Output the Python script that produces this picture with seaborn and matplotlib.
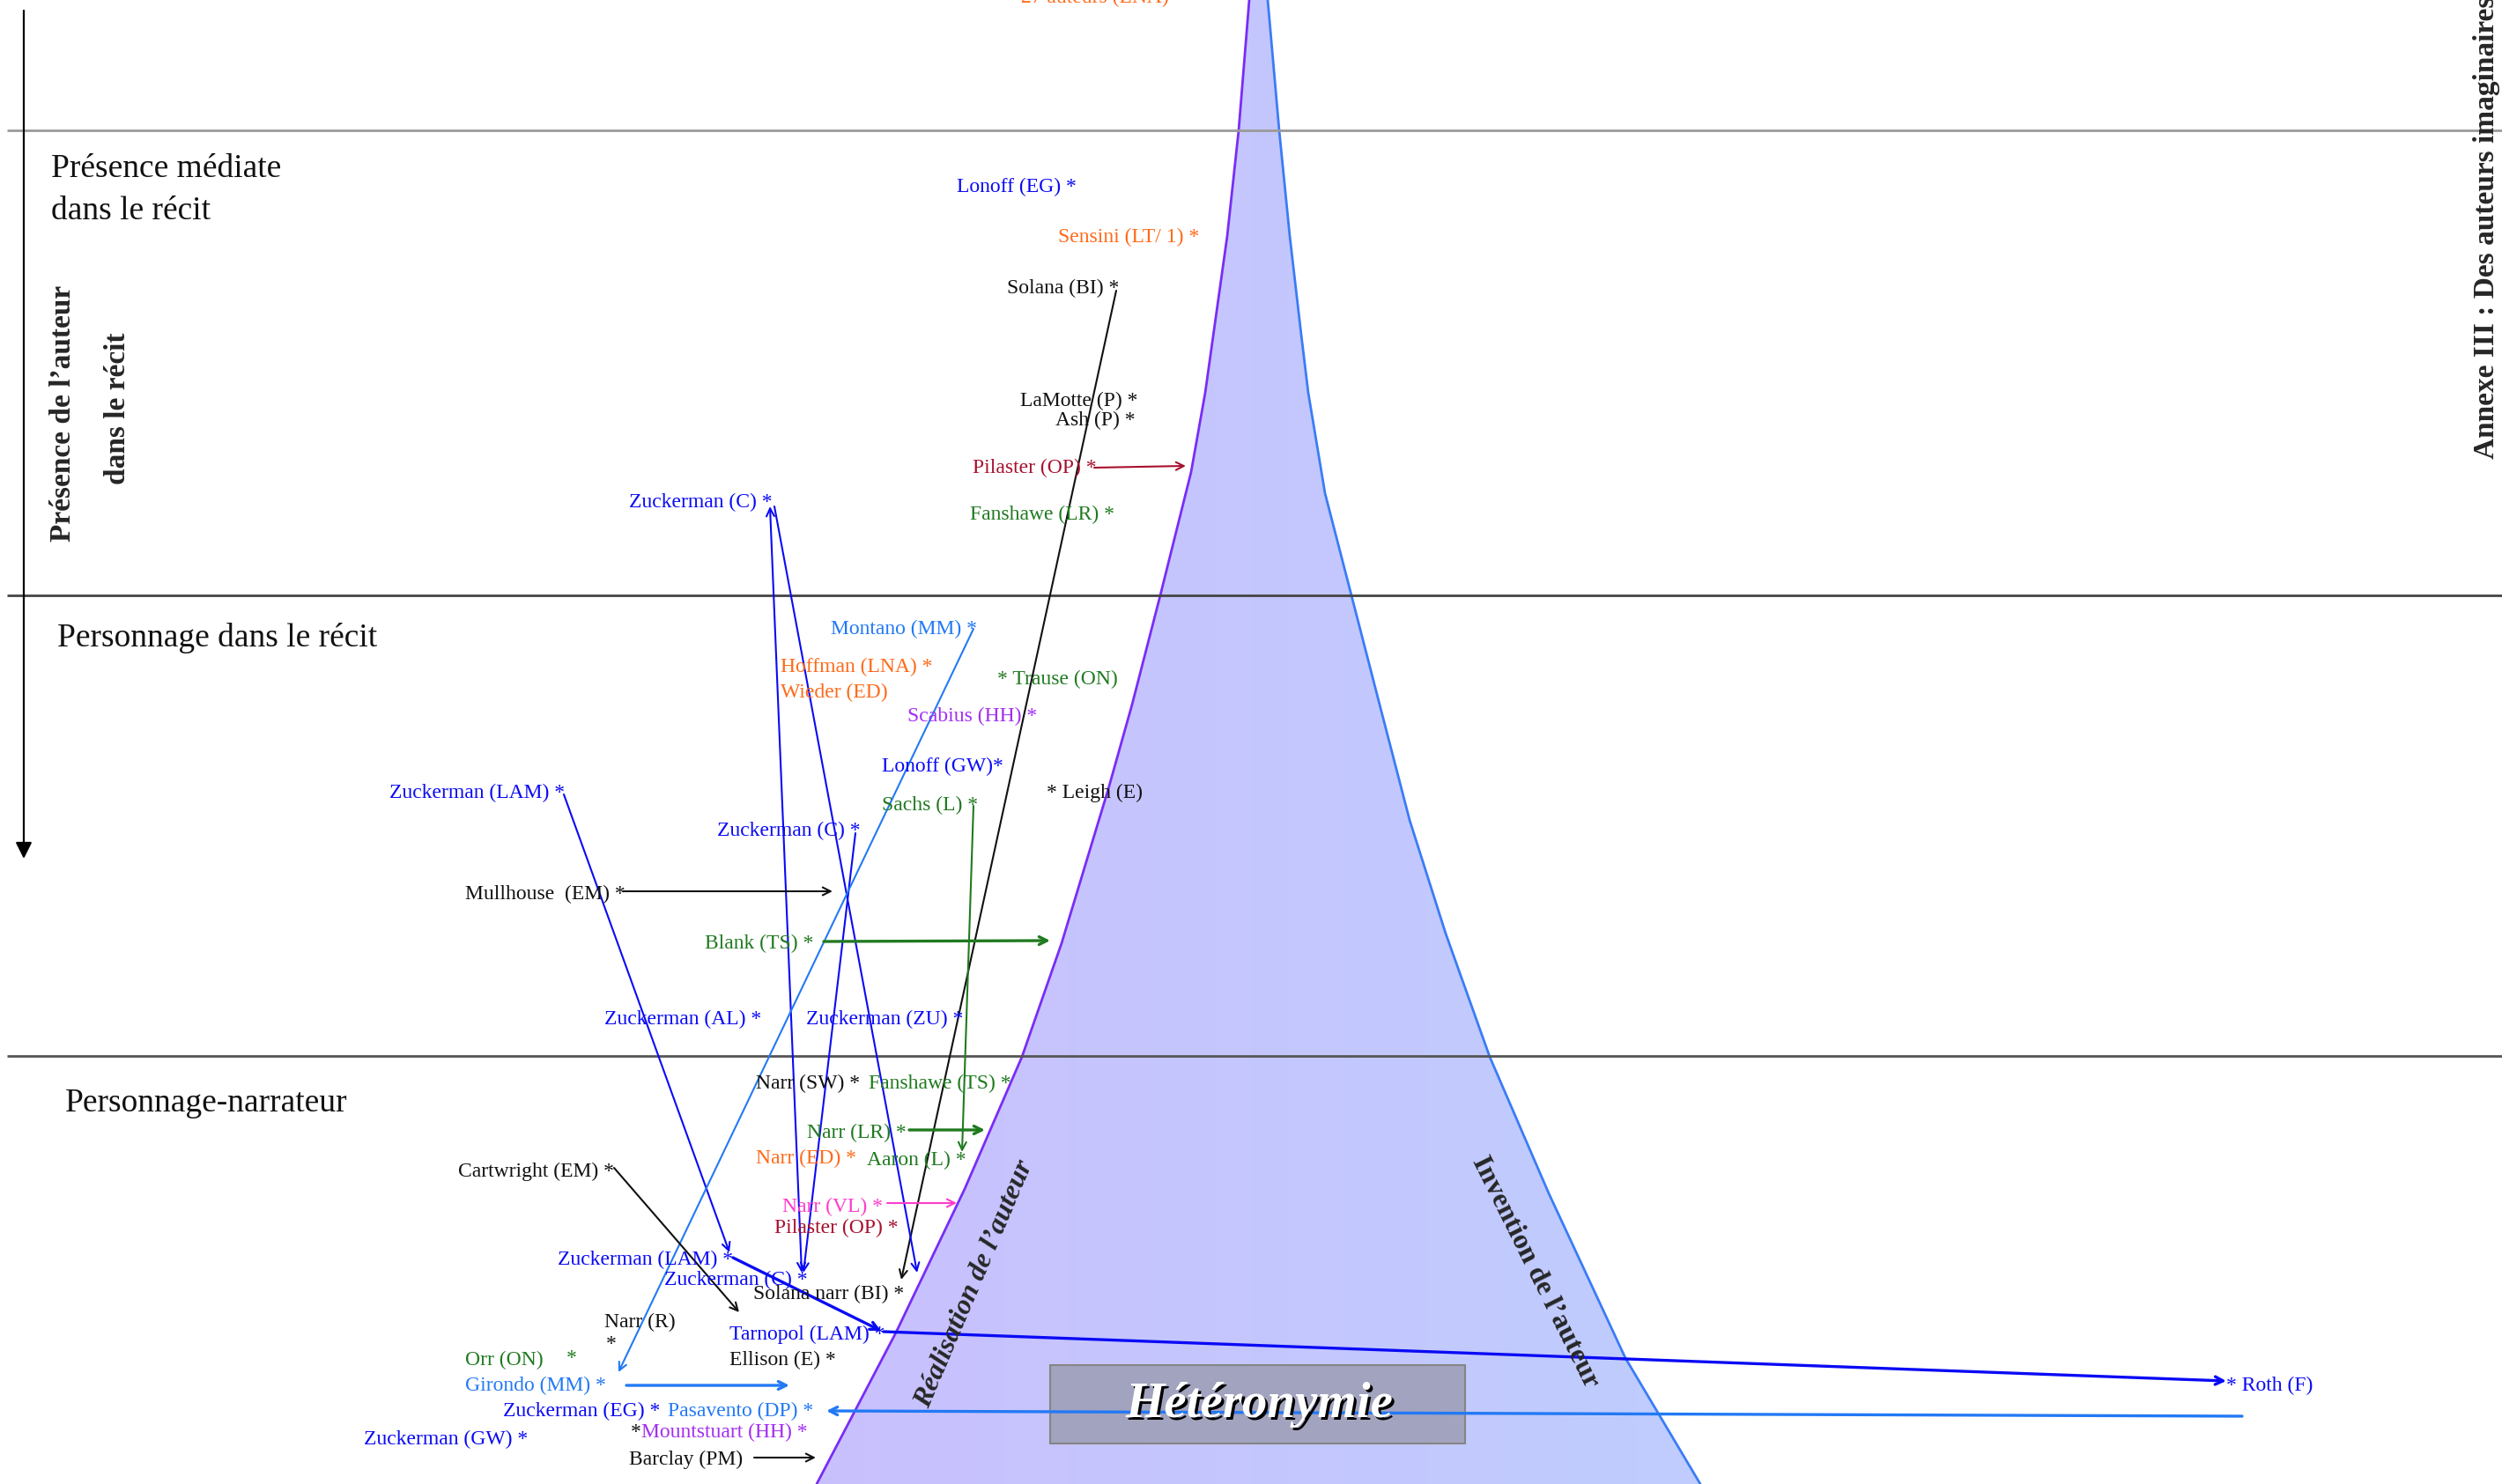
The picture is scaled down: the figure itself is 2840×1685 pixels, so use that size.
import numpy as np
import matplotlib
matplotlib.use("Agg")
import matplotlib.pyplot as plt
from matplotlib.patches import Polygon, Rectangle
import seaborn as sns

# --- data (pixel space, y downwards) ---
funnel_y = [0, 148, 268, 446, 536, 676, 800, 896, 1071, 1200, 1350, 1513, 1685]
funnel_left = [1418, 1406, 1393, 1368, 1352, 1317, 1285, 1258, 1205, 1160, 1095, 1017, 927]
funnel_ry = [0, 148, 268, 380, 446, 560, 676, 800, 931, 1060, 1200, 1355, 1542, 1685]
funnel_right = [1439, 1452, 1464, 1477, 1485, 1504, 1534, 1566, 1600, 1641, 1691, 1758, 1845, 1930]

band_y = [148, 676, 1199]
band_titles = ["Présence médiate\ndans le récit", "Personnage dans le récit", "Personnage-narrateur"]
band_title_x = [58, 65, 74]
band_title_y = [216, 724, 1253]

labels = ["27 auteurs (LNA)", "Lonoff (EG) *", "Sensini (LT/ 1) *", "Solana (BI) *",
          "LaMotte (P) *", "Ash (P) *", "Pilaster (OP) *", "Fanshawe (LR) *",
          "Zuckerman (C) *", "Montano (MM) *", "Hoffman (LNA) *", "Wieder (ED)",
          "* Trause (ON)", "Scabius (HH) *", "Lonoff (GW)*", "* Leigh (E)",
          "Sachs (L) *", "Zuckerman (LAM) *", "Zuckerman (C) *", "Mullhouse  (EM) *",
          "Blank (TS) *", "Zuckerman (AL) *", "Zuckerman (ZU) *", "Narr (SW) *",
          "Fanshawe (TS) *", "Narr (LR) *", "Narr (ED) *", "Aaron (L) *",
          "Cartwright (EM) *", "Narr (VL) *", "Pilaster (OP) *", "Zuckerman (LAM) *",
          "Zuckerman (C) *", "Solana narr (BI) *", "Narr (R)", "*",
          "Tarnopol (LAM) *", "Ellison (E) *", "Orr (ON)", "*",
          "Girondo (MM) *", "Zuckerman (EG) *", "Pasavento (DP) *", "*",
          "Mountstuart (HH) *", "Zuckerman (GW) *", "Barclay (PM)", "* Roth (F)"]
label_x = [1159, 1086, 1201, 1143, 1158, 1198, 1104, 1101,
           714, 943, 886, 886, 1132, 1030, 1001, 1188,
           1001, 442, 814, 528, 800, 686, 915, 858,
           986, 916, 858, 984, 520, 888, 879, 633,
           754, 855, 686, 688, 828, 828, 528, 643,
           528, 571, 758, 716, 728, 413, 714, 2527]
label_y = [-3, 212, 269, 327, 455, 477, 531, 584,
           570, 714, 757, 786, 771, 813, 870, 900,
           914, 900, 943, 1015, 1071, 1157, 1157, 1230,
           1230, 1286, 1315, 1317, 1330, 1370, 1394, 1430,
           1453, 1469, 1501, 1527, 1515, 1544, 1544, 1542,
           1573, 1602, 1602, 1626, 1626, 1634, 1657, 1573]
label_group = ["orange", "blue", "orange", "black", "black", "black", "crimson", "green",
               "blue", "light", "orange", "orange", "green", "purple", "blue", "black",
               "green", "blue", "blue", "black", "green", "blue", "blue", "black",
               "green", "green", "orange", "green", "black", "pink", "crimson", "blue",
               "blue", "black", "black", "black", "blue", "black", "green", "green",
               "light", "blue", "light", "black", "purple", "blue", "black", "blue"]

# links between the same author in different positions
link_x0 = [1267, 874, 879, 971, 640, 832, 1003, 1105, 1105, 707, 935, 1242, 1032, 1007, 697, 711, 2545, 856]
link_y0 = [330, 575, 575, 946, 902, 1428, 1512, 714, 915, 1012, 1069, 531, 1283, 1366, 1326, 1573, 1608, 1655]
link_x1 = [1023, 910, 1041, 912, 828, 1000, 2527, 702, 1092, 945, 1192, 1346, 1118, 1086, 839, 896, 938, 926]
link_y1 = [1453, 1445, 1445, 1445, 1422, 1511, 1568, 1558, 1308, 1012, 1068, 529, 1283, 1366, 1490, 1573, 1602, 1655]
link_group = ["black", "blue", "blue", "blue", "blue", "blue", "blue", "light", "green",
              "black", "green", "crimson", "green", "pink", "black", "light", "light", "black"]
link_both = [False, True, False, False, False, False, False, False, False,
             False, False, False, False, False, False, False, False, False]
link_heavy = [False, False, False, False, False, True, True, False, False,
              False, True, False, True, False, False, True, True, False]

palette = {"blue": "#0a0af5", "light": "#2279f5", "orange": "#ff6a1a", "green": "#207a20",
           "purple": "#a22ef0", "crimson": "#a8102e", "pink": "#ff3ccb", "black": "#111111"}

sns.set_theme(style="white")
plt.rcParams["font.family"] = ["Liberation Serif", "DejaVu Serif"]

fig = plt.figure(figsize=(28.4, 16.85), dpi=100)
ax = fig.add_axes([0, 0, 1, 1])
ax.set_xlim(0, 2840)
ax.set_ylim(1685, 0)
ax.axis("off")

# funnel fill with a soft horizontal gradient
verts = list(zip(funnel_left, funnel_y)) + list(zip(funnel_right[::-1], funnel_ry[::-1]))
poly = Polygon(verts, closed=True, facecolor="none", edgecolor="none", transform=ax.transData)
ax.add_patch(poly)
c0 = np.array([201, 192, 253]) / 255
c1 = np.array([191, 205, 254]) / 255
t = np.linspace(0, 1, 256)[None, :, None]
grad = c0 + (c1 - c0) * t
im = ax.imshow(np.repeat(grad, 2, axis=0), extent=[900, 1940, 1685, 0], aspect="auto", zorder=1)
im.set_clip_path(poly)

sns.lineplot(x=funnel_left, y=funnel_y, sort=False, estimator=None, color="#7a2cf6", lw=2, ax=ax, zorder=2)
sns.lineplot(x=funnel_right, y=funnel_ry, sort=False, estimator=None, color="#3a7cf7", lw=2, ax=ax, zorder=2)

# band separators
for yy, col in zip(band_y, ["#9a9a9a", "#444444", "#555555"]):
    ax.hlines(yy, 8, 2840, color=col, lw=2, zorder=3)
for txt, xx, yy in zip(band_titles, band_title_x, band_title_y):
    ax.text(xx, yy, txt, fontsize=27, color="#111111", ha="left", va="center", linespacing=1.5, zorder=5)

# vertical axis
ax.annotate("", xy=(27, 975), xytext=(27, 12),
            arrowprops=dict(arrowstyle="-|>", color="black", lw=1.6, mutation_scale=28, shrinkA=0, shrinkB=0))
ax.text(72, 469, "Présence de l\u2019auteur", rotation=90, fontsize=24, fontweight="bold",
        ha="center", va="center")
ax.text(134, 464, "dans le récit", rotation=90, fontsize=24, fontweight="bold",
        ha="center", va="center")
ax.text(2822, 521, "Annexe III : Des auteurs imaginaires", rotation=90, fontsize=24,
        fontweight="bold", ha="center", va="bottom")

# links
for x0, y0, x1, y1, g, both, heavy in zip(link_x0, link_y0, link_x1, link_y1, link_group, link_both, link_heavy):
    ax.annotate("", xy=(x1, y1), xytext=(x0, y0),
                arrowprops=dict(arrowstyle="<->" if both else "->", color=palette[g],
                                lw=2.4 if heavy else 1.5, mutation_scale=16, shrinkA=0, shrinkB=0),
                zorder=4)

# author labels
for txt, xx, yy, g in zip(labels, label_x, label_y, label_group):
    ax.text(xx, yy, txt, fontsize=17, color=palette[g], ha="left", va="center", zorder=6)

# funnel side captions
ax.text(1106, 1458, "Réalisation de l\u2019auteur", rotation=67, fontsize=23, fontweight="bold",
        fontstyle="italic", ha="center", va="center", zorder=6)
ax.text(1742, 1444, "Invention de l\u2019auteur", rotation=-63.5, fontsize=23, fontweight="bold",
        ha="center", va="center", zorder=6)

# heteronymy box
ax.add_patch(Rectangle((1192, 1550), 471, 89, facecolor="#a2a3be", edgecolor="#858585", lw=1.5, zorder=3))
ax.text(1432, 1598, "Hétéronymie", fontsize=41, fontweight="bold", fontstyle="italic",
        color="black", ha="center", va="center", zorder=6)
ax.text(1429, 1595, "Hétéronymie", fontsize=41, fontweight="bold", fontstyle="italic",
        color="white", ha="center", va="center", zorder=7)

fig.savefig("out.png", dpi=100, facecolor="white")
